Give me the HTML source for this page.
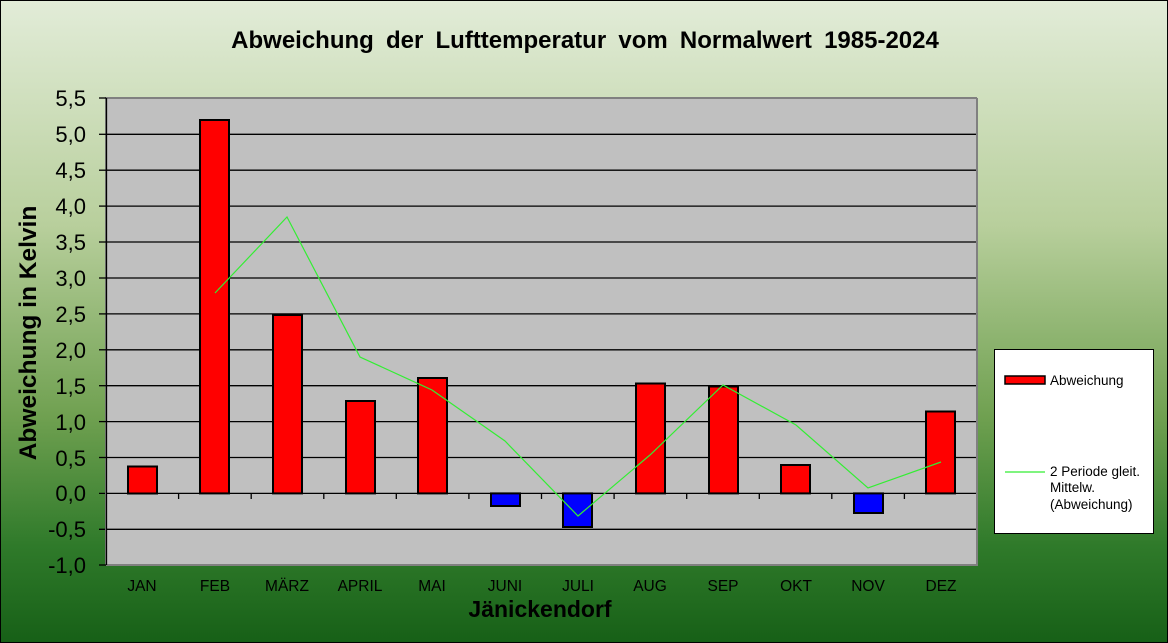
<!DOCTYPE html>
<html><head><meta charset="utf-8"><style>
html,body{margin:0;padding:0;width:1168px;height:643px;overflow:hidden}
svg{display:block;font-family:"Liberation Sans",Arial,sans-serif}
</style></head><body>
<svg width="1168" height="643" xmlns="http://www.w3.org/2000/svg">
<defs><linearGradient id="bg" x1="0" y1="0" x2="0" y2="1">
<stop offset="0" stop-color="#e2ecd8"/><stop offset="0.35" stop-color="#b8cf9c"/>
<stop offset="0.65" stop-color="#6fa050"/><stop offset="0.85" stop-color="#2f7a2a"/><stop offset="1" stop-color="#176017"/></linearGradient></defs>
<rect x="0.5" y="0.5" width="1167" height="642" fill="url(#bg)" stroke="#000"/>
<text x="585" y="48" text-anchor="middle" font-size="24" font-weight="bold" word-spacing="5.5">Abweichung der Lufttemperatur vom Normalwert 1985-2024</text>
<rect x="106" y="98" width="871" height="467" fill="#c0c0c0"/>
<g stroke="#000" stroke-width="1.3">
<line x1="106" y1="134.3" x2="977" y2="134.3"/><line x1="106" y1="170.2" x2="977" y2="170.2"/>
<line x1="106" y1="206.1" x2="977" y2="206.1"/><line x1="106" y1="242" x2="977" y2="242"/>
<line x1="106" y1="278" x2="977" y2="278"/><line x1="106" y1="313.9" x2="977" y2="313.9"/>
<line x1="106" y1="349.8" x2="977" y2="349.8"/><line x1="106" y1="385.7" x2="977" y2="385.7"/>
<line x1="106" y1="421.6" x2="977" y2="421.6"/><line x1="106" y1="457.5" x2="977" y2="457.5"/>
<line x1="99" y1="493.4" x2="977" y2="493.4"/><line x1="99" y1="529.3" x2="977" y2="529.3"/>
</g>
<path d="M106 565 V98 H977" fill="none" stroke="#808080" stroke-width="2"/>
<path d="M106 565 H977 V98" fill="none" stroke="#808080" stroke-width="2"/>
<line x1="106.5" y1="98" x2="106.5" y2="565" stroke="#000" stroke-width="1.3"/>
<g stroke="#000" stroke-width="1.3">
<line x1="99" y1="98" x2="106" y2="98"/><line x1="99" y1="134.3" x2="106" y2="134.3"/><line x1="99" y1="170.2" x2="106" y2="170.2"/><line x1="99" y1="206.1" x2="106" y2="206.1"/><line x1="99" y1="242" x2="106" y2="242"/><line x1="99" y1="278" x2="106" y2="278"/><line x1="99" y1="313.9" x2="106" y2="313.9"/><line x1="99" y1="349.8" x2="106" y2="349.8"/><line x1="99" y1="385.7" x2="106" y2="385.7"/><line x1="99" y1="421.6" x2="106" y2="421.6"/><line x1="99" y1="457.5" x2="106" y2="457.5"/><line x1="99" y1="565" x2="106" y2="565"/>
<line x1="178.6" y1="493" x2="178.6" y2="499"/><line x1="251.2" y1="493" x2="251.2" y2="499"/><line x1="323.8" y1="493" x2="323.8" y2="499"/><line x1="396.3" y1="493" x2="396.3" y2="499"/><line x1="468.9" y1="493" x2="468.9" y2="499"/><line x1="541.5" y1="493" x2="541.5" y2="499"/><line x1="614.1" y1="493" x2="614.1" y2="499"/><line x1="686.7" y1="493" x2="686.7" y2="499"/><line x1="759.3" y1="493" x2="759.3" y2="499"/><line x1="831.8" y1="493" x2="831.8" y2="499"/><line x1="904.4" y1="493" x2="904.4" y2="499"/>
</g>
<g font-size="22" text-anchor="end">
<text x="86" y="106">5,5</text><text x="86" y="142">5,0</text><text x="86" y="178">4,5</text><text x="86" y="214">4,0</text><text x="86" y="250">3,5</text><text x="86" y="286">3,0</text><text x="86" y="322">2,5</text><text x="86" y="358">2,0</text><text x="86" y="394">1,5</text><text x="86" y="430">1,0</text><text x="86" y="466">0,5</text><text x="86" y="501">0,0</text><text x="86" y="537">-0,5</text><text x="86" y="573">-1,0</text>
</g>
<g stroke="#000" stroke-width="2">
<rect x="128" y="466.5" width="29" height="27" fill="#f00"/>
<rect x="200" y="120" width="29" height="373.4" fill="#f00"/>
<rect x="273" y="315" width="29" height="178.4" fill="#f00"/>
<rect x="346" y="401" width="29" height="92.4" fill="#f00"/>
<rect x="418" y="378" width="29" height="115.4" fill="#f00"/>
<rect x="491" y="493.4" width="29" height="12.6" fill="#00f"/>
<rect x="563" y="493.4" width="29" height="33.6" fill="#00f"/>
<rect x="636" y="383.5" width="29" height="109.9" fill="#f00"/>
<rect x="709" y="386.5" width="29" height="106.9" fill="#f00"/>
<rect x="781" y="465" width="29" height="28.4" fill="#f00"/>
<rect x="854" y="493.4" width="29" height="19.6" fill="#00f"/>
<rect x="926" y="411.5" width="29" height="81.9" fill="#f00"/>
</g>
<polyline fill="none" stroke="#33ee33" stroke-width="1.2" points="215,293 287,217 360,357 432,390 505,441 578,516 650,455 723,385 796,425 868,488 941,462"/>
<g font-size="15.5" text-anchor="middle">
<text x="142" y="591">JAN</text><text x="215" y="591">FEB</text><text x="287" y="591">MÄRZ</text><text x="360" y="591">APRIL</text><text x="432" y="591">MAI</text><text x="505" y="591">JUNI</text><text x="578" y="591">JULI</text><text x="650" y="591">AUG</text><text x="723" y="591">SEP</text><text x="796" y="591">OKT</text><text x="868" y="591">NOV</text><text x="941" y="591">DEZ</text>
</g>
<text x="540" y="617" text-anchor="middle" font-size="23" font-weight="bold">Jänickendorf</text>
<text transform="translate(36,333) rotate(-90)" text-anchor="middle" font-size="24.5" font-weight="bold">Abweichung in Kelvin</text>
<rect x="994.5" y="349.5" width="159" height="184" fill="#fff" stroke="#000"/>
<rect x="1005" y="376" width="40" height="8" fill="#f00" stroke="#000" stroke-width="1.5"/>
<text x="1050" y="385" font-size="13.5">Abweichung</text>
<line x1="1005" y1="472" x2="1045" y2="472" stroke="#33ee33" stroke-width="1.2"/>
<text x="1050" y="476" font-size="13.5">2 Periode gleit.</text>
<text x="1050" y="492" font-size="13.5">Mittelw.</text>
<text x="1050" y="509" font-size="13.5">(Abweichung)</text>
</svg>
</body></html>
